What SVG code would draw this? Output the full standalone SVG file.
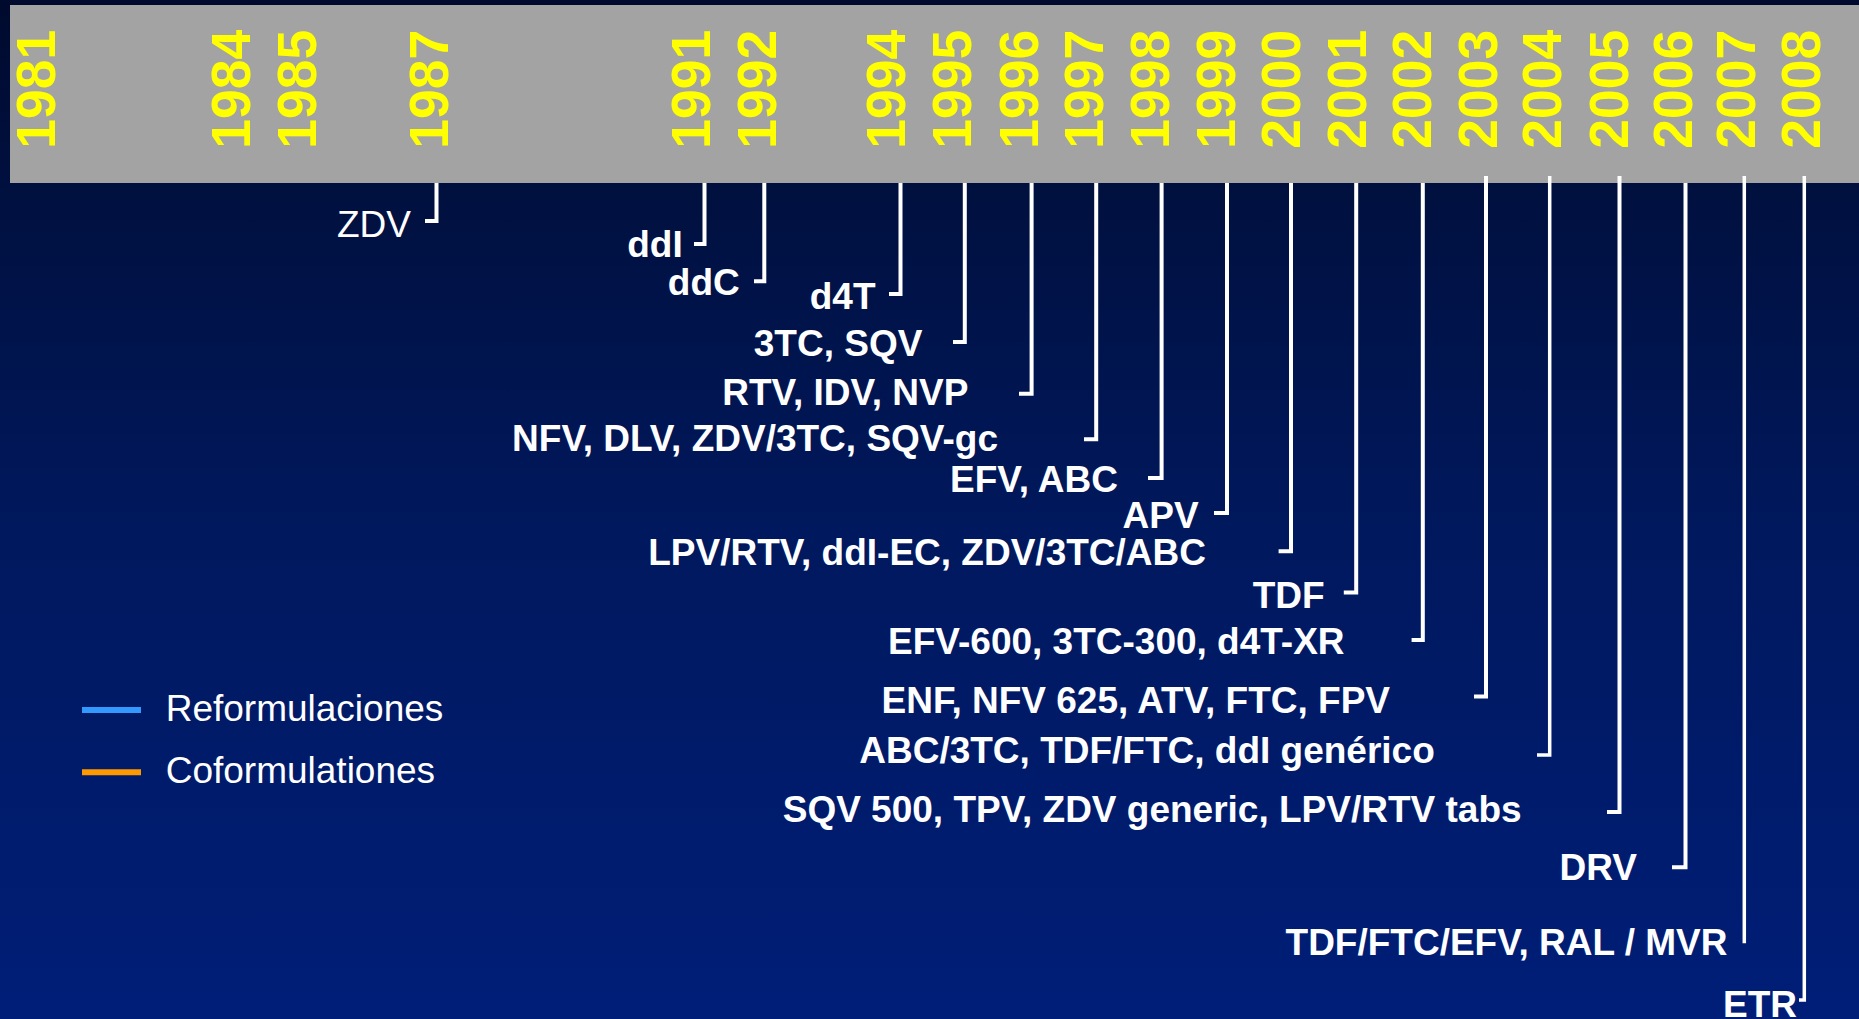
<svg xmlns="http://www.w3.org/2000/svg" width="1859" height="1019" viewBox="0 0 1859 1019">
<defs>
<linearGradient id="bg" x1="0" y1="0" x2="0" y2="1">
<stop offset="0" stop-color="#000a2e"/>
<stop offset="0.19" stop-color="#00103f"/>
<stop offset="0.52" stop-color="#00185d"/>
<stop offset="1" stop-color="#001e78"/>
</linearGradient>
<style>
.yr{font-family:"Liberation Sans",Arial,sans-serif;font-weight:bold;font-size:56px;fill:#ffff00}
.lb{font-family:"Liberation Sans",Arial,sans-serif;font-weight:bold;font-size:37px;fill:#ffffff;text-anchor:end}
.lr{font-family:"Liberation Sans",Arial,sans-serif;font-size:37px;fill:#ffffff}
.tk{fill:none;stroke:#ffffff;stroke-width:4;stroke-linejoin:miter}
.tn{stroke-width:3.5}
</style>
</defs>
<rect x="0" y="0" width="1859" height="1019" fill="url(#bg)"/>
<rect id="bar" x="10" y="5" width="1849" height="178" fill="#a3a3a3"/>
<g id="years">
<text class="yr" transform="translate(55,148.8) rotate(-90)" textLength="119" lengthAdjust="spacingAndGlyphs">1981</text>
<text class="yr" transform="translate(250,148.8) rotate(-90)" textLength="119" lengthAdjust="spacingAndGlyphs">1984</text>
<text class="yr" transform="translate(315.5,148.8) rotate(-90)" textLength="119" lengthAdjust="spacingAndGlyphs">1985</text>
<text class="yr" transform="translate(447.6,148.8) rotate(-90)" textLength="119" lengthAdjust="spacingAndGlyphs">1987</text>
<text class="yr" transform="translate(710.3,148.8) rotate(-90)" textLength="119" lengthAdjust="spacingAndGlyphs">1991</text>
<text class="yr" transform="translate(776,148.8) rotate(-90)" textLength="119" lengthAdjust="spacingAndGlyphs">1992</text>
<text class="yr" transform="translate(905,148.8) rotate(-90)" textLength="119" lengthAdjust="spacingAndGlyphs">1994</text>
<text class="yr" transform="translate(971,148.8) rotate(-90)" textLength="119" lengthAdjust="spacingAndGlyphs">1995</text>
<text class="yr" transform="translate(1038,148.8) rotate(-90)" textLength="119" lengthAdjust="spacingAndGlyphs">1996</text>
<text class="yr" transform="translate(1103,148.8) rotate(-90)" textLength="119" lengthAdjust="spacingAndGlyphs">1997</text>
<text class="yr" transform="translate(1169,148.8) rotate(-90)" textLength="119" lengthAdjust="spacingAndGlyphs">1998</text>
<text class="yr" transform="translate(1235,148.8) rotate(-90)" textLength="119" lengthAdjust="spacingAndGlyphs">1999</text>
<text class="yr" transform="translate(1300,148.8) rotate(-90)" textLength="119" lengthAdjust="spacingAndGlyphs">2000</text>
<text class="yr" transform="translate(1365.5,148.8) rotate(-90)" textLength="119" lengthAdjust="spacingAndGlyphs">2001</text>
<text class="yr" transform="translate(1431,148.8) rotate(-90)" textLength="119" lengthAdjust="spacingAndGlyphs">2002</text>
<text class="yr" transform="translate(1497,148.8) rotate(-90)" textLength="119" lengthAdjust="spacingAndGlyphs">2003</text>
<text class="yr" transform="translate(1561,148.8) rotate(-90)" textLength="119" lengthAdjust="spacingAndGlyphs">2004</text>
<text class="yr" transform="translate(1628,148.8) rotate(-90)" textLength="119" lengthAdjust="spacingAndGlyphs">2005</text>
<text class="yr" transform="translate(1692,148.8) rotate(-90)" textLength="119" lengthAdjust="spacingAndGlyphs">2006</text>
<text class="yr" transform="translate(1755,148.8) rotate(-90)" textLength="119" lengthAdjust="spacingAndGlyphs">2007</text>
<text class="yr" transform="translate(1819.5,148.8) rotate(-90)" textLength="119" lengthAdjust="spacingAndGlyphs">2008</text>
</g>
<g id="connectors">
<path class="tk" d="M436.5,183 V221 H425"/>
<path class="tk" d="M704.5,183 V244 H694"/>
<path class="tk" d="M764.3,183 V281.3 H754"/>
<path class="tk" d="M900.5,183 V294 H889"/>
<path class="tk" d="M964.8,183 V342 H953"/>
<path class="tk" d="M1031.6,183 V393.7 H1019"/>
<path class="tk" d="M1096.2,183 V439.3 H1084"/>
<path class="tk" d="M1161.6,183 V478 H1148"/>
<path class="tk" d="M1227,183 V513 H1214"/>
<path class="tk" d="M1291,183 V551.3 H1278.6"/>
<path class="tk" d="M1356.2,183 V592.6 H1343.8"/>
<path class="tk" d="M1422.8,183 V640 H1411.6"/>
<path class="tk" d="M1486,176 V696.5 H1474"/>
<path class="tk tn" d="M1549.7,176 V755 H1537"/>
<path class="tk" d="M1619.5,176 V812 H1607"/>
<path class="tk" d="M1685.5,183 V867.3 H1672"/>
<path class="tk tn" d="M1744.3,176 V943.3"/>
<path class="tk tn" d="M1804.3,176 V1000 H1799"/>
</g>
<g id="n-zdv"><text class="lr" x="411" y="236.7" text-anchor="end">ZDV</text></g>
<g id="n-ddi"><text class="lb" x="682.7" y="257.3">ddI</text></g>
<g id="n-ddc"><text class="lb" x="739.8" y="295">ddC</text></g>
<g id="n-d4t"><text class="lb" x="875.5" y="309.3">d4T</text></g>
<g id="n-3tc"><text class="lb" x="922.4" y="355.7">3TC, SQV</text></g>
<g id="n-rtv"><text class="lb" x="968.4" y="405.3">RTV, IDV, NVP</text></g>
<g id="n-nfv"><text class="lb" x="998" y="451">NFV, DLV, ZDV/3TC, SQV-gc</text></g>
<g id="n-efv"><text class="lb" x="1118" y="491.7">EFV, ABC</text></g>
<g id="n-apv"><text class="lb" x="1198.7" y="527.7">APV</text></g>
<g id="n-lpv"><text class="lb" x="1206" y="565">LPV/RTV, ddI-EC, ZDV/3TC/ABC</text></g>
<g id="n-tdf"><text class="lb" x="1324.6" y="608.3">TDF</text></g>
<g id="n-efv600"><text class="lb" x="1344.6" y="654">EFV-600, 3TC-300, d4T-XR</text></g>
<g id="n-enf"><text class="lb" x="1390" y="713.3">ENF, NFV 625, ATV, FTC, FPV</text></g>
<g id="n-abc"><text class="lb" x="1434.8" y="763.3">ABC/3TC, TDF/FTC, ddI genérico</text></g>
<g id="n-sqv"><text class="lb" x="1521.6" y="821.7">SQV 500, TPV, ZDV generic, LPV/RTV tabs</text></g>
<g id="n-drv"><text class="lb" x="1637" y="880">DRV</text></g>
<g id="n-tdfftc"><text class="lb" x="1727.5" y="955">TDF/FTC/EFV, RAL / MVR</text></g>
<g id="n-etr"><text class="lb" x="1797" y="1016.7">ETR</text></g>
<g id="legend">
<line x1="82" y1="710" x2="141" y2="710" stroke="#3399ff" stroke-width="6"/>
<text class="lr" x="165.7" y="720.7">Reformulaciones</text>
<line x1="82" y1="772.3" x2="141" y2="772.3" stroke="#ff9900" stroke-width="6"/>
<text class="lr" x="165.7" y="782.7">Coformulationes</text>
</g>
</svg>
